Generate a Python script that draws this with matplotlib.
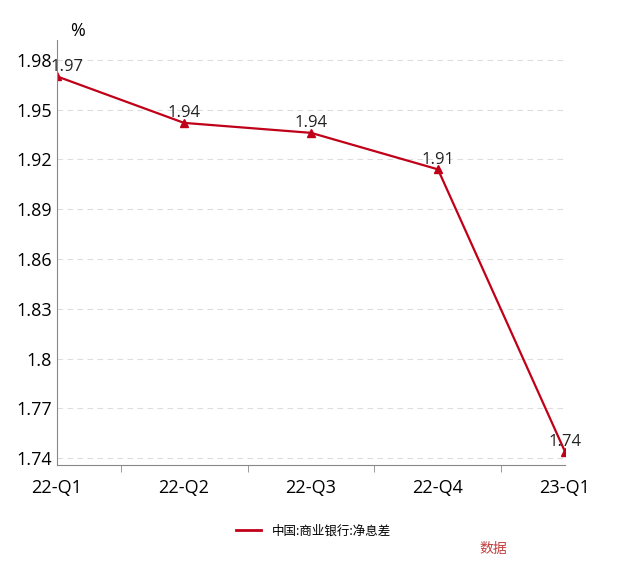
import matplotlib
matplotlib.use("Agg")
import matplotlib.pyplot as plt
from matplotlib.lines import Line2D

quarters = ["22-Q1", "22-Q2", "22-Q3", "22-Q4", "23-Q1"]
nim = [1.970, 1.942, 1.936, 1.914, 1.744]
labels = ["1.97", "1.94", "1.94", "1.91", "1.74"]
yticks = [1.74, 1.77, 1.80, 1.83, 1.86, 1.89, 1.92, 1.95, 1.98]
ytick_labels = ["1.74", "1.77", "1.8", "1.83", "1.86", "1.89", "1.92", "1.95", "1.98"]

plt.rcParams["font.family"] = ["Open Sans", "Noto Sans CJK SC"]
red = "#C00018"

fig = plt.figure(figsize=(6.27, 5.70), dpi=100)
ax = fig.add_axes([0.091, 0.184, 0.81, 0.746])

x = list(range(len(quarters)))
ax.plot(x, nim, color=red, lw=1.6, marker="^", ms=6)
for xi, yi, t in zip(x, nim, labels):
    dx = 0.08 if xi == 0 else 0
    ax.text(xi + dx, yi + 0.001, t, ha="center", va="bottom", fontsize=12, color="#222222")

ax.set_xlim(0, 4)
ax.set_ylim(1.7358, 1.992)
ax.set_yticks(yticks)
ax.set_yticklabels(ytick_labels, fontsize=13)
ax.set_xticks(x)
ax.set_xticklabels(quarters, fontsize=13)
ax.set_xticks([0.5, 1.5, 2.5, 3.5], minor=True)
ax.tick_params(axis="x", which="major", length=0, pad=10)
ax.tick_params(axis="x", which="minor", length=5, color="#888888")
ax.tick_params(axis="y", length=0)
ax.grid(axis="y", ls=(0, (5, 4)), color="#dddddd", lw=0.8)
for s in ["top", "right"]:
    ax.spines[s].set_visible(False)
ax.spines["left"].set_color("#888888")
ax.spines["bottom"].set_color("#888888")
ax.text(0.04, 1.0, "%", transform=ax.transAxes, fontsize=13, ha="center", va="bottom")

handle = Line2D([], [], color=red, lw=2)
fig.legend([handle], ["中国:商业银行:净息差"], loc="center", bbox_to_anchor=(0.5, 0.068),
           frameon=False, handlelength=2.0, prop={"family": "Noto Sans CJK SC", "size": 9})
fig.text(0.765, 0.03, "数据", fontsize=10, color="#c04040", family="Noto Sans CJK SC")

fig.savefig("out.png", dpi=100)
